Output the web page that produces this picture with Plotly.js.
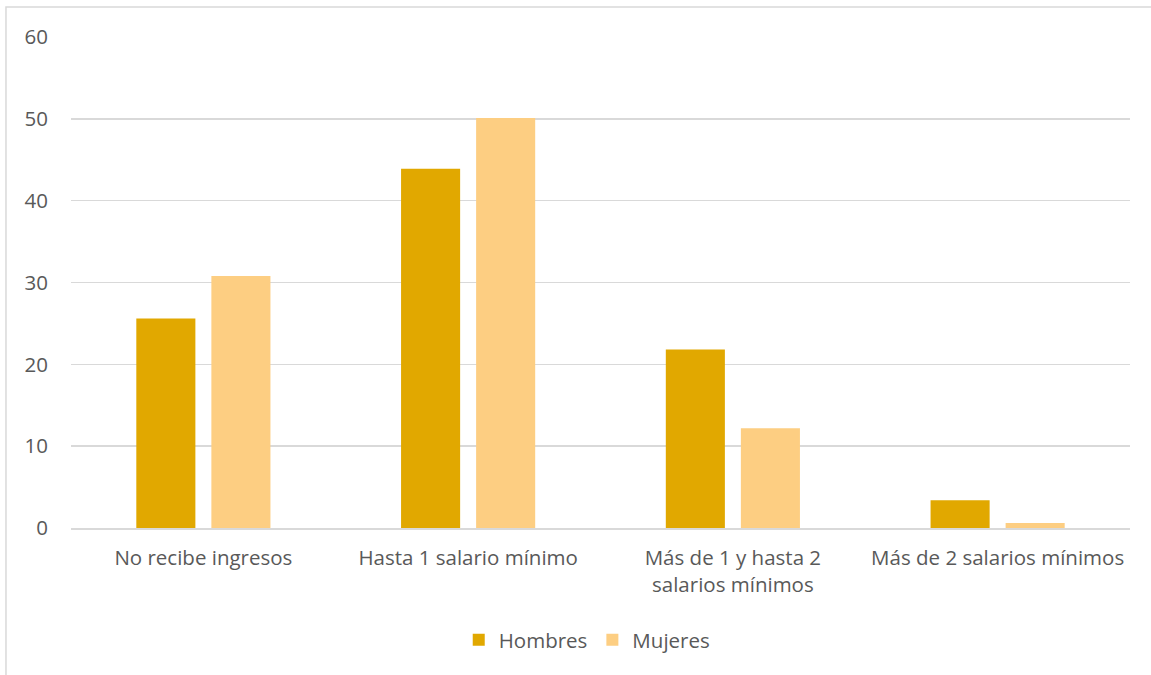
<!DOCTYPE html>
<html>
<head>
<meta charset="utf-8">
<script src="https://cdn.plot.ly/plotly-3.0.1.min.js"></script>
<style>body{margin:0;background:#fff}#chart{width:1151px;height:675px}</style>
</head>
<body>
<div id="chart"></div>
<script>
const categories = ["No recibe ingresos", "Hasta 1 salario mínimo", "Más de 1 y hasta 2<br>salarios mínimos", "Más de 2 salarios mínimos"];
const hombres = [25.6, 43.9, 21.8, 3.4];
const mujeres = [30.8, 50.1, 12.2, 0.6];
const yTicks = [0, 10, 20, 30, 40, 50, 60];

const font = {family: "Open Sans, sans-serif", size: 20.5, color: "#595959"};

const traces = [
  {type: "bar", name: "Hombres", x: categories, y: hombres, marker: {color: "#E1A800"}, hoverinfo: "none"},
  {type: "bar", name: "Mujeres", x: categories, y: mujeres, marker: {color: "#FDCE82"}, hoverinfo: "none"}
];

const layout = {
  width: 1151, height: 675,
  margin: {l: 71, r: 21, t: 37, b: 147},
  paper_bgcolor: "#fff", plot_bgcolor: "#fff",
  font: font,
  barmode: "group",
  bargap: 0.433,
  bargroupgap: 0.213,
  showlegend: true,
  legend: {orientation: "h", x: 0.487, xanchor: "center", y: -0.228, yanchor: "middle", font: font, itemwidth: 30, traceorder: "normal"},
  xaxis: {showgrid: false, showline: true, linecolor: "#D9D9D9", linewidth: 1.5, ticks: "", tickfont: font, ticklabelstandoff: 11, fixedrange: true, automargin: false},
  yaxis: {range: [0, 60], tickvals: yTicks, showgrid: true, gridcolor: "#D9D9D9", gridwidth: 1.5, zeroline: false, showline: false, ticks: "", tickfont: font, ticklabelstandoff: 22, fixedrange: true, automargin: false},
  shapes: [{type: "rect", xref: "paper", yref: "paper", x0: -0.0614, x1: 1.05, y0: -0.4, y1: 1.0611, line: {color: "#D9D9D9", width: 1.5}, fillcolor: "rgba(0,0,0,0)", layer: "below"}]
};

Plotly.newPlot("chart", traces, layout, {displayModeBar: false, staticPlot: true});
</script>
</body>
</html>
